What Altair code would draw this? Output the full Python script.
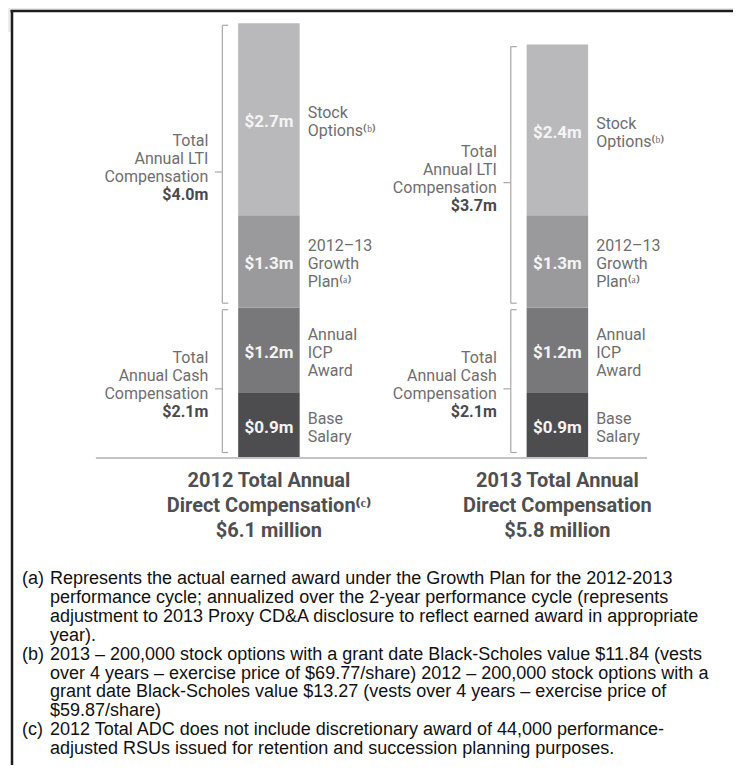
import altair as alt
import pandas as pd

# ---------------- data ----------------
years = [2012, 2013]
component_keys = ["base", "icp", "growth", "options"]
component_lines = [
    ["Base", "Salary"],
    ["Annual", "ICP", "Award"],
    ["2012–13", "Growth", "Plan⁽ᵃ⁾"],
    ["Stock", "Options⁽ᵇ⁾"],
]
values_2012 = [0.9, 1.2, 1.3, 2.7]
values_2013 = [0.9, 1.2, 1.3, 2.4]
component_colors = ["#4d4d4f", "#78787b", "#9a9a9c", "#b9b9bb"]

group_lines = [["Total", "Annual Cash", "Compensation"], ["Total", "Annual LTI", "Compensation"]]
group_members = [[0, 1], [2, 3]]

title_first_lines = ["2012 Total Annual", "2013 Total Annual"]
title_second_lines = ["Direct Compensation⁽ᶜ⁾", "Direct Compensation"]

footnote_markers = ["(a)", "(b)", "(c)"]
footnote_texts = [
    ["Represents the actual earned award under the Growth Plan for the 2012-2013",
     "performance cycle; annualized over the 2-year performance cycle (represents",
     "adjustment to 2013 Proxy CD&A disclosure to reflect earned award in appropriate",
     "year)."],
    ["2013 – 200,000 stock options with a grant date Black-Scholes value $11.84 (vests",
     "over 4 years – exercise price of $69.77/share) 2012 – 200,000 stock options with a",
     "grant date Black-Scholes value $13.27 (vests over 4 years – exercise price of",
     "$59.87/share)"],
    ["2012 Total ADC does not include discretionary award of 44,000 performance-",
     "adjusted RSUs issued for retention and succession planning purposes."],
]

# ---------------- layout / style constants ----------------
W, H = 725, 757
PX_PER_YEAR = 292.5
X0_PX = 259.5
PX_PER_M = 71.1
Y0_PX = 449
BAR_W = 61.5
LINE_H = 18
LABEL_SIZE = 16
X_DOMAIN = [2012 - X0_PX / PX_PER_YEAR, 2012 + (W - X0_PX) / PX_PER_YEAR]
Y_DOMAIN = [-(H - Y0_PX) / PX_PER_M, Y0_PX / PX_PER_M]
LABEL_FONT = "Roboto"
NOTE_FONT = "Liberation Sans"

xs = alt.Scale(domain=X_DOMAIN, nice=False, zero=False)
ys = alt.Scale(domain=Y_DOMAIN, nice=False, zero=False)

# ---------------- derived tables ----------------
seg_rows = []
for yr, vals in zip(years, [values_2012, values_2013]):
    acc = 0.0
    for k, v, lines in zip(component_keys, vals, component_lines):
        mid = acc + v / 2
        first_line_px = 3 - (len(lines) - 1) * LINE_H / 2  # pixel offset (down) of first text line
        seg_rows.append(dict(year=yr, key=k, y0=acc, y1=acc + v, mid=mid,
                             ytext=mid - first_line_px / PX_PER_M,
                             label=f"${v:.1f}m", lines=lines))
        acc += v
seg = pd.DataFrame(seg_rows)

br_rows = []
for yr, vals in zip(years, [values_2012, values_2013]):
    cum = [0.0]
    for v in vals:
        cum.append(cum[-1] + v)
    for lines, mem in zip(group_lines, group_members):
        start, end = cum[mem[0]], cum[mem[-1] + 1]
        bx = yr - (BAR_W / 2 + 16.5) / PX_PER_YEAR
        mid = (start + end) / 2
        br_rows.append(dict(
            year=yr, bx=bx, sx=bx + 6 / PX_PER_YEAR, tx=bx - 7.5 / PX_PER_YEAR,
            ytop=end - 2 / PX_PER_M, ybot=start + 4.5 / PX_PER_M,
            ytick=mid - 6.5 / PX_PER_M, lines=lines, total=f"${end - start:.1f}m"))
br = pd.DataFrame(br_rows)

titles = pd.DataFrame([
    dict(year=yr, lines=[t1, t2, f"${sum(v):.1f} million"])
    for yr, t1, t2, v in zip(years, title_first_lines, title_second_lines, [values_2012, values_2013])
])

note_rows = []
i = 0
for m, lines in zip(footnote_markers, footnote_texts):
    for j, ln in enumerate(lines):
        note_rows.append(dict(marker=m if j == 0 else "", text=ln, py=571 + 18.9 * i))
        i += 1
notes = pd.DataFrame(note_rows)

base_df = pd.DataFrame([dict(y=-1.0 / PX_PER_M,
                             x1=2012 - 175.5 / PX_PER_YEAR,
                             x2=2013 + 91 / PX_PER_YEAR)])
one = pd.DataFrame({"a": [0]})

# ---------------- layers ----------------
frame_band = alt.Chart(one).mark_rect(color="#ebebeb").encode(
    x=alt.value(0), x2=alt.value(W), y=alt.value(0), y2=alt.value(2.5))
frame_strip = alt.Chart(one).mark_rect(color="#ebebeb").encode(
    x=alt.value(0), x2=alt.value(3), y=alt.value(0), y2=alt.value(24))
frame_top = alt.Chart(one).mark_rule(color="#1c1c1c", strokeWidth=2.5).encode(
    x=alt.value(2.5), x2=alt.value(W), y=alt.value(3))
frame_left = alt.Chart(one).mark_rule(color="#1c1c1c", strokeWidth=2.5).encode(
    x=alt.value(4), y=alt.value(2), y2=alt.value(H))

baseline = alt.Chart(base_df).mark_rule(color="#c4c4c4", strokeWidth=2).encode(
    x=alt.X("x1:Q", scale=xs, axis=None), x2="x2:Q",
    y=alt.Y("y:Q", scale=ys, axis=None))

bars = alt.Chart(seg).mark_bar(size=BAR_W).encode(
    x=alt.X("year:Q", scale=xs, axis=None),
    y=alt.Y("y0:Q", scale=ys, axis=None), y2="y1:Q",
    color=alt.Color("key:N", scale=alt.Scale(domain=component_keys, range=component_colors), legend=None))

values_txt = alt.Chart(seg).mark_text(font=LABEL_FONT, fontSize=17, fontWeight="bold",
                                       color="#f4f4f4", dy=3).encode(
    x=alt.X("year:Q", scale=xs, axis=None), y=alt.Y("mid:Q", scale=ys, axis=None), text="label:N")

right_txt = alt.Chart(seg).mark_text(font=LABEL_FONT, fontSize=LABEL_SIZE, color="#6e6e70", align="left",
                                      dx=BAR_W / 2 + 8, lineHeight=LINE_H).encode(
    x=alt.X("year:Q", scale=xs, axis=None), y=alt.Y("ytext:Q", scale=ys, axis=None), text="lines:N")

br_color = "#a8a8a8"
br_vert = alt.Chart(br).mark_rule(color=br_color, strokeWidth=1.2).encode(
    x=alt.X("bx:Q", scale=xs, axis=None), y=alt.Y("ybot:Q", scale=ys, axis=None), y2="ytop:Q")
br_top = alt.Chart(br).mark_rule(color=br_color, strokeWidth=1.2).encode(
    x=alt.X("bx:Q", scale=xs, axis=None), x2="sx:Q", y=alt.Y("ytop:Q", scale=ys, axis=None))
br_bot = alt.Chart(br).mark_rule(color=br_color, strokeWidth=1.2).encode(
    x=alt.X("bx:Q", scale=xs, axis=None), x2="sx:Q", y=alt.Y("ybot:Q", scale=ys, axis=None))
br_tick = alt.Chart(br).mark_rule(color=br_color, strokeWidth=1.2).encode(
    x=alt.X("tx:Q", scale=xs, axis=None), x2="bx:Q", y=alt.Y("ytick:Q", scale=ys, axis=None))

left_txt = alt.Chart(br).mark_text(font=LABEL_FONT, fontSize=LABEL_SIZE, color="#6e6e70", align="right",
                                    dx=-14, dy=-31, lineHeight=LINE_H).encode(
    x=alt.X("bx:Q", scale=xs, axis=None), y=alt.Y("ytick:Q", scale=ys, axis=None), text="lines:N")
left_total = alt.Chart(br).mark_text(font=LABEL_FONT, fontSize=LABEL_SIZE, fontWeight="bold", color="#4a4a4c",
                                      align="right", dx=-14, dy=23).encode(
    x=alt.X("bx:Q", scale=xs, axis=None), y=alt.Y("ytick:Q", scale=ys, axis=None), text="total:N")

title_txt = alt.Chart(titles).mark_text(font=LABEL_FONT, fontSize=20, fontWeight="bold", color="#4f4f51",
                                         lineHeight=25, baseline="middle").encode(
    x=alt.X("year:Q", scale=xs, axis=None), y=alt.value(473), text="lines:N")

note_marker = alt.Chart(notes).mark_text(font=NOTE_FONT, fontSize=18, color="#111111", align="left",
                                          baseline="middle").encode(
    x=alt.value(14), y=alt.Y("py:Q", scale=None), text="marker:N")
note_txt = alt.Chart(notes).mark_text(font=NOTE_FONT, fontSize=18, color="#111111", align="left",
                                       baseline="middle").encode(
    x=alt.value(42), y=alt.Y("py:Q", scale=None), text="text:N")

chart = alt.layer(
    frame_band, frame_strip, frame_top, frame_left,
    baseline, bars, values_txt, right_txt,
    br_vert, br_top, br_bot, br_tick, left_txt, left_total,
    title_txt, note_marker, note_txt,
).properties(
    width=W, height=H, padding=0,
    autosize=alt.AutoSizeParams(type="none"),
    background="white",
).configure_view(strokeWidth=0)

chart.save("out.html", embed_options={"renderer": "svg", "actions": False})
